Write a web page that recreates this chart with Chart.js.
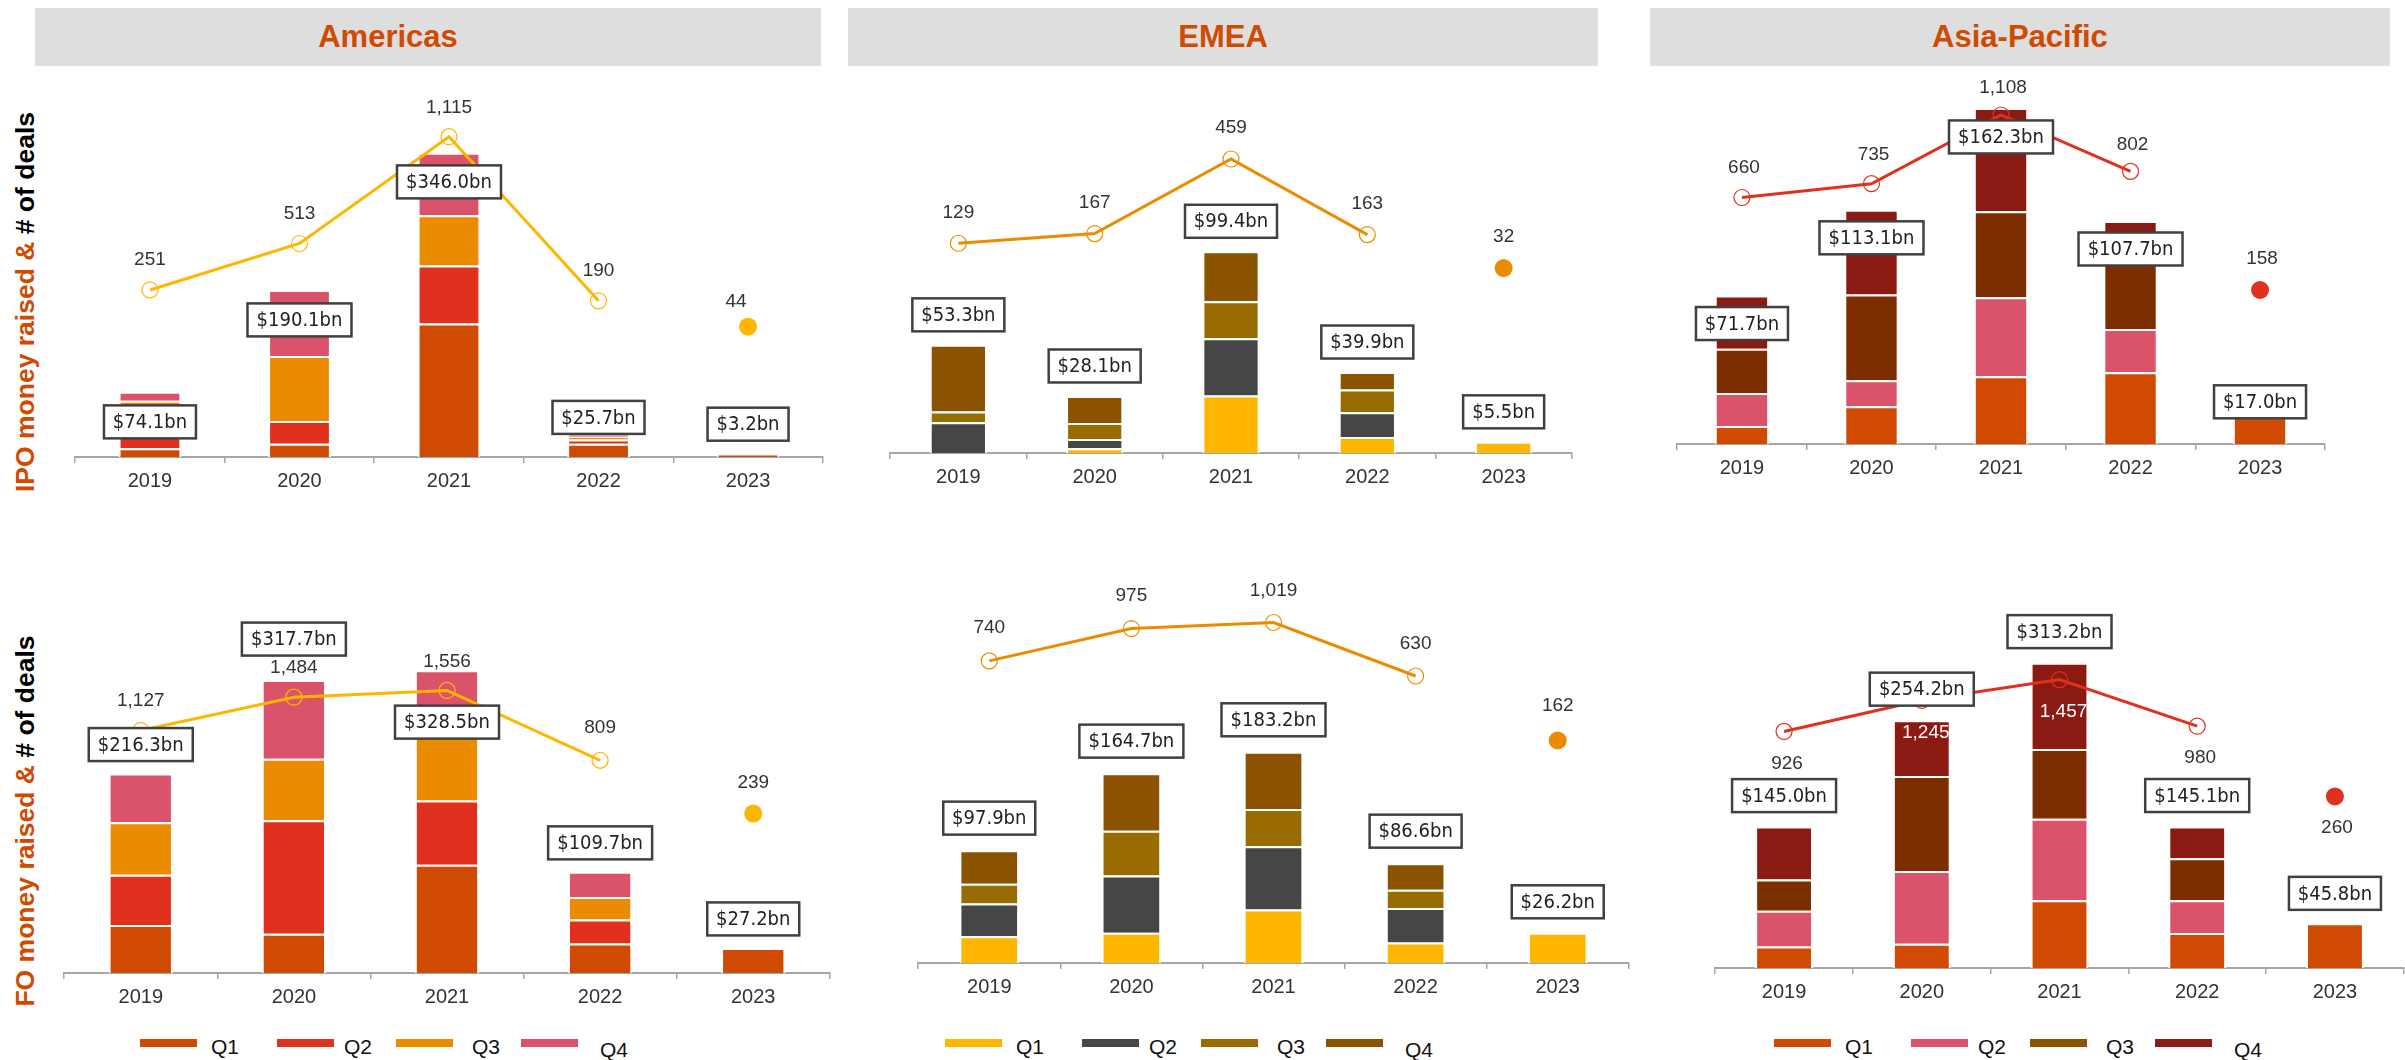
<!DOCTYPE html>
<html>
<head>
<meta charset="utf-8">
<title>IPO and FO money raised</title>
<script src="https://cdn.jsdelivr.net/npm/chart.js"></script>
<style>
  body { margin: 0; width: 2405px; height: 1060px; background: #fff; position: relative; overflow: hidden;
         font-family: 'Liberation Sans', Arial, sans-serif; }
  .hdr { position: absolute; top: 8px; height: 58px; background: #dedede; color: #d04a02;
         font-weight: bold; font-size: 31px; display: flex; align-items: center; justify-content: center; box-sizing: border-box; }
  .side { position: absolute; white-space: nowrap; font-weight: bold; font-size: 26.5px; color: #000;
          transform: translate(-50%, -50%) rotate(-90deg); }
  .side span { color: #d04a02; }
  canvas { position: absolute; }
  .lg { position: absolute; height: 8px; width: 57px; }
  .lgt { position: absolute; font-size: 21px; color: #111; line-height: 24px; }
</style>
</head>
<body>

<div class="hdr" style="left:35px;width:786px;padding-right:80px;">Americas</div>
<div class="hdr" style="left:848px;width:750px;">EMEA</div>
<div class="hdr" style="left:1650px;width:740px;">Asia-Pacific</div>

<div class="side" style="left:25px;top:302px;"><span>IPO money raised &amp;</span> # of deals</div>
<div class="side" style="left:25px;top:821px;"><span>FO money raised &amp;</span> # of deals</div>

<canvas id="c1"></canvas>
<canvas id="c2"></canvas>
<canvas id="c3"></canvas>
<canvas id="c4"></canvas>
<canvas id="c5"></canvas>
<canvas id="c6"></canvas>

<script>
const years = ['2019', '2020', '2021', '2022', '2023'];
const quarters = ['Q1', 'Q2', 'Q3', 'Q4'];

// money raised ($bn) per quarter: [Q1, Q2, Q3, Q4], one value per year
const amerIpo = [
  [10, 15, 152, 15, 3.2],
  [28, 26, 66, 5, 0],
  [26, 74, 57, 3, 0],
  [10.1, 75.1, 71, 2.7, 0]
];
const amerIpoTotal = [74.1, 190.1, 346.0, 25.7, 3.2];
const amerIpoDeals = [251, 513, 1115, 190, 44];

const emeaIpo = [
  [0, 2.3, 28.3, 7.9, 5.5],
  [15.2, 4.6, 28.3, 12.2, 0],
  [5.2, 7.9, 18.2, 11.2, 0],
  [32.9, 13.3, 24.6, 8.6, 0]
];
const emeaIpoTotal = [53.3, 28.1, 99.4, 39.9, 5.5];
const emeaIpoDeals = [129, 167, 459, 163, 32];

const apacIpo = [
  [8.7, 18.2, 32.7, 34.6, 17.0],
  [15.9, 12.6, 38.2, 20.9, 0],
  [21.4, 41.4, 41.5, 38, 0],
  [25.7, 40.9, 49.9, 14.2, 0]
];
const apacIpoTotal = [71.7, 113.1, 162.3, 107.7, 17.0];
const apacIpoDeals = [660, 735, 1108, 802, 158];

const amerFo = [
  [52, 42.6, 117.4, 32.1, 27.2],
  [54.6, 123.2, 69.7, 26.0, 0],
  [56.8, 66.6, 93, 24.4, 0],
  [52.9, 85.3, 48.4, 27.2, 0]
];
const amerFoTotal = [216.3, 317.7, 328.5, 109.7, 27.2];
const amerFoDeals = [1127, 1484, 1556, 809, 239];

const emeaFo = [
  [23.2, 26.3, 46.5, 17.7, 26.2],
  [28.5, 49.5, 54.8, 30.0, 0],
  [17.0, 39.0, 32.2, 15.8, 0],
  [29.2, 49.9, 49.7, 23.1, 0]
];
const emeaFoTotal = [97.9, 164.7, 183.2, 86.6, 26.2];
const emeaFoDeals = [740, 975, 1019, 630, 162];

const apacFo = [
  [22.0, 24.9, 69.6, 35.9, 45.8],
  [36.6, 74.7, 83.5, 33.7, 0],
  [32.2, 97.4, 71.4, 42.9, 0],
  [54.2, 57.2, 88.7, 32.6, 0]
];
const apacFoTotal = [145.0, 254.2, 313.2, 145.1, 45.8];
const apacFoDeals = [926, 1245, 1457, 980, 260];

// colours
const amerColors = ['#D04A02', '#E0301E', '#EB8C00', '#DB536A'];
const emeaColors = ['#FFB600', '#464646', '#986C00', '#8B5300'];
const apacColors = ['#D04A02', '#DB536A', '#7D2E00', '#8A1A12'];
const apacLegendColors = ['#D04A02', '#DB536A', '#8B5500', '#8A1E16'];
const amerLine = '#FFB600', emeaLine = '#EB8C00', apacLine = '#E0301E';

const boxFont = "20px 'Liberation Sans Narrow', 'Arial Narrow', 'DejaVu Sans Condensed', sans-serif";
const numFont = "19px 'Liberation Sans', Arial, sans-serif";

// panel layout: axis span, chart top and baseline (page px), axis ranges, label offsets
const panels = [
  { id: 'c1', q: amerIpo, total: amerIpoTotal, deals: amerIpoDeals, colors: amerColors, line: amerLine,
    left: 74, right: 824, top: 80, base: 457, bnMax: 428.9, dMin: -690.5, dMax: 1434.6,
    boxDy: [30, 30, 29, -17, -30], dealDy: [-30, -30, -29, -30, -25], dealDx: [0, 0, 0, 0, -12] },
  { id: 'c2', q: emeaIpo, total: emeaIpoTotal, deals: emeaIpoDeals, colors: emeaColors, line: emeaLine,
    left: 889, right: 1573, top: 80, base: 453, bnMax: 183.8, dMin: -692.5, dMax: 768.5,
    boxDy: [-30, -30, -30, -30, -30], dealDy: [-31, -31, -31, -31, -31] },
  { id: 'c3', q: apacIpo, total: apacIpoTotal, deals: apacIpoDeals, colors: apacColors, line: apacLine,
    left: 1676, right: 2326, top: 80, base: 444, bnMax: 175.8, dMin: -678.1, dMax: 1298,
    boxDy: [28, 28, 29, 28, -7], dealDy: [-30, -29, -27, -27, -31], dealDx: [2, 2, 2, 2, 2] },
  { id: 'c4', q: amerFo, total: amerFoTotal, deals: amerFoDeals, colors: amerColors, line: amerLine,
    left: 63, right: 831, top: 570, base: 973, bnMax: 437.1, dMin: -1466, dMax: 2844,
    boxDy: [-29, -41, 52, -29, -29], dealDy: [-30, -29, -29, -33, -31] },
  { id: 'c5', q: emeaFo, total: emeaFoTotal, deals: emeaFoDeals, colors: emeaColors, line: emeaLine,
    left: 917, right: 1630, top: 570, base: 963, bnMax: 340.9, dMin: -1455.7, dMax: 1400.4,
    boxDy: [-32, -32, -32, -32, -31], dealDy: [-33, -33, -32, -32, -35] },
  { id: 'c6', q: apacFo, total: apacFoTotal, deals: apacFoDeals, colors: apacColors, line: apacLine,
    left: 1714, right: 2405, top: 570, base: 968, bnMax: 408.2, dMin: -1498, dMax: 2580,
    boxDy: [-31, -31, -31, -31, -30], dealDy: [32, 32, 32, 32, 31], dealDx: [3, 4, 4, 3, 2],
    dealColor: ['#333', '#fff', '#fff', '#333', '#333'] }
];

const AXIS_H = 40, PAD_X = 8, PAD_T = 10;

function labelPlugin(p) {
  return {
    id: 'panelLabels',
    afterDatasetsDraw(chart) {
      const { ctx, scales } = chart;
      ctx.save();
      ctx.textAlign = 'center';
      ctx.textBaseline = 'middle';
      // money raised boxes
      p.total.forEach((t, i) => {
        const cx = scales.x.getPixelForValue(i);
        const cy = scales.y.getPixelForValue(t) + p.boxDy[i];
        const txt = '$' + t.toFixed(1) + 'bn';
        ctx.font = boxFont;
        const w = Math.round(ctx.measureText(txt).width + 18), h = 33;
        ctx.fillStyle = '#fff';
        ctx.fillRect(cx - w / 2, cy - h / 2, w, h);
        ctx.lineWidth = 2.5;
        ctx.strokeStyle = '#404040';
        ctx.strokeRect(cx - w / 2, cy - h / 2, w, h);
        ctx.fillStyle = '#222';
        ctx.fillText(txt, cx, cy + 1);
      });
      // number of deals
      ctx.font = numFont;
      p.deals.forEach((d, i) => {
        const cx = scales.x.getPixelForValue(i) + (p.dealDx ? p.dealDx[i] : 0);
        const cy = scales.y1.getPixelForValue(d) + p.dealDy[i];
        ctx.fillStyle = p.dealColor ? p.dealColor[i] : '#333';
        ctx.fillText(d.toLocaleString('en-US'), cx, cy);
      });
      ctx.restore();
    }
  };
}

panels.forEach(p => {
  const cv = document.getElementById(p.id);
  const w = p.right - p.left + PAD_X * 2;
  const h = p.base - p.top + PAD_T + AXIS_H;
  cv.width = w; cv.height = h;
  cv.style.left = (p.left - PAD_X) + 'px';
  cv.style.top = (p.top - PAD_T) + 'px';

  const barSets = quarters.map((name, k) => ({
    label: name,
    data: p.q[k],
    backgroundColor: p.colors[k],
    borderColor: '#ffffff',
    borderWidth: 2,
    barPercentage: 0.42,
    categoryPercentage: 1,
    order: 2
  }));
  const lineSet = {
    type: 'line',
    label: '# of deals',
    data: p.deals.map((v, i) => i < years.length - 1 ? v : null),
    yAxisID: 'y1',
    borderColor: p.line,
    borderWidth: 3,
    pointRadius: 8,
    pointBorderWidth: 1.2,
    pointBorderColor: p.line,
    pointBackgroundColor: 'rgba(255,255,255,0)',
    tension: 0,
    order: 0
  };
  const dotSet = {
    type: 'line',
    label: '# of deals latest',
    data: p.deals.map((v, i) => i === years.length - 1 ? v : null),
    yAxisID: 'y1',
    showLine: false,
    pointRadius: 9,
    pointBorderWidth: 0,
    pointBackgroundColor: p.line,
    order: 0
  };

  new Chart(cv, {
    type: 'bar',
    data: { labels: years, datasets: [...barSets, lineSet, dotSet] },
    options: {
      responsive: false,
      animation: false,
      events: [],
      layout: { padding: { left: PAD_X, right: PAD_X, top: PAD_T, bottom: 0 } },
      plugins: { legend: { display: false }, tooltip: { enabled: false } },
      scales: {
        x: {
          stacked: true,
          offset: true,
          afterFit: s => { s.height = AXIS_H; },
          grid: { offset: true, drawOnChartArea: false, drawTicks: true, tickLength: 6, color: '#a6a6a6', lineWidth: 1.5 },
          border: { display: true, color: '#a6a6a6', width: 2 },
          ticks: { color: '#333', padding: 6, font: { family: "'Liberation Sans', Arial, sans-serif", size: 20 } }
        },
        y: { stacked: true, display: false, min: 0, max: p.bnMax },
        y1: { display: false, min: p.dMin, max: p.dMax }
      }
    },
    plugins: [labelPlugin(p)]
  });
});

// legends (one per region column)
const legends = [
  { x: 140, colors: amerColors },
  { x: 945, colors: emeaColors },
  { x: 1774, colors: apacLegendColors }
];
const itemDx = [0, 137, 256, 381];
const textDx = [71, 67, 76, 79];
legends.forEach(l => {
  quarters.forEach((name, k) => {
    const r = document.createElement('div');
    r.className = 'lg';
    r.style.left = (l.x + itemDx[k]) + 'px';
    r.style.top = '1039px';
    r.style.background = l.colors[k];
    document.body.appendChild(r);
    const t = document.createElement('div');
    t.className = 'lgt';
    t.textContent = name;
    t.style.left = (l.x + itemDx[k] + textDx[k]) + 'px';
    t.style.top = (k === 3 ? 1038 : 1035) + 'px';
    document.body.appendChild(t);
  });
});
</script>
</body>
</html>
